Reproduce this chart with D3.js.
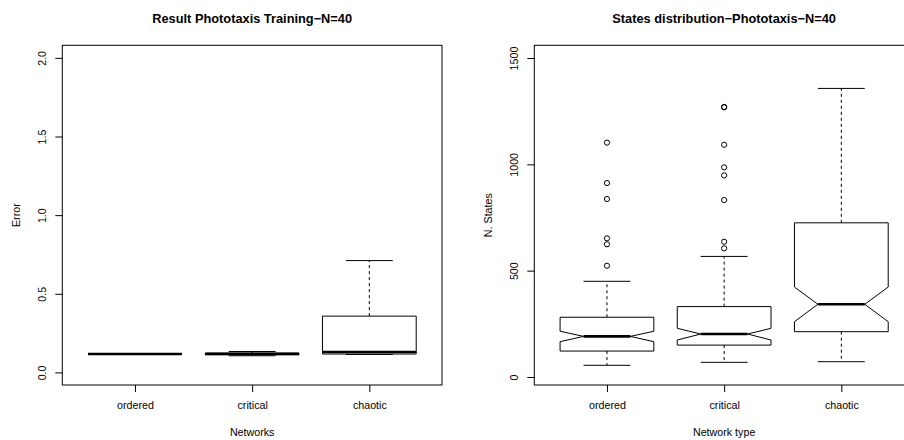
<!DOCTYPE html>
<html>
<head>
<meta charset="utf-8">
<script src="https://cdn.jsdelivr.net/npm/d3@7"></script>
<style>
  html, body { margin: 0; padding: 0; background: #fff; }
  svg { display: block; font-family: "Liberation Sans", Arial, Helvetica, sans-serif; }
</style>
</head>
<body>
<svg id="chart" width="904" height="440"></svg>
<script>
// Categories shared by both panels
const categories = ["ordered", "critical", "chaotic"];

// Panel 1: training error per network type (five-number summaries)
const errorLow    = [0.117, 0.106, 0.114];
const errorQ1     = [0.117, 0.113, 0.117];
const errorMedian = [0.117, 0.118, 0.130];
const errorQ3     = [0.117, 0.122, 0.358];
const errorHigh   = [0.117, 0.133, 0.711];
const errorTicks  = [0, 0.5, 1.0, 1.5, 2.0];

// Panel 2: number of states per network type (notched boxes + outliers)
const statesLow      = [55, 69, 72];
const statesQ1       = [122, 150, 213];
const statesNotchLo  = [166, 174, 260];
const statesMedian   = [191, 202, 342];
const statesNotchHi  = [215, 229, 423];
const statesQ3       = [281, 331, 725];
const statesHigh     = [450, 567, 1357];
const statesOutliers = [
  [523, 624, 652, 837, 912, 1102],
  [605, 636, 832, 948, 986, 1092, 1268, 1270],
  []
];
const statesTicks = [0, 500, 1000, 1500];

const svg = d3.select("#chart");
const FONT = 10.7;

function panel(opts) {
  const { left, right, top, bottom, yDomain, ticks, tickFmt, title, xTitle, yTitle,
          low, q1, med, q3, high, notchLo, notchHi, outliers } = opts;

  const g = svg.append("g");
  const x = d3.scaleLinear().domain([0.38, 3.62]).range([left, right]);
  const y = d3.scaleLinear().domain(yDomain).range([bottom, top]);
  const step = x(2) - x(1);
  const half = 0.4 * step;      // half box width
  const capHalf = 0.2 * step;   // half whisker-cap width

  const rows = categories.map((c, i) => ({
    c, i, pos: x(i + 1),
    low: low[i], q1: q1[i], med: med[i], q3: q3[i], high: high[i],
    nlo: notchLo ? notchLo[i] : null, nhi: notchHi ? notchHi[i] : null,
    out: outliers ? outliers[i] : []
  }));

  const box = g.append("g").selectAll("g").data(rows).join("g");

  // whiskers
  box.append("line")
    .attr("x1", d => d.pos).attr("x2", d => d.pos)
    .attr("y1", d => y(d.q3)).attr("y2", d => y(d.high))
    .attr("stroke", "#000").attr("stroke-width", 1).attr("stroke-dasharray", "3,3");
  box.append("line")
    .attr("x1", d => d.pos).attr("x2", d => d.pos)
    .attr("y1", d => y(d.q1)).attr("y2", d => y(d.low))
    .attr("stroke", "#000").attr("stroke-width", 1).attr("stroke-dasharray", "3,3");
  // caps
  box.selectAll("line.cap").data(d => [d.low, d.high].map(v => ({ v, pos: d.pos })))
    .join("line").attr("class", "cap")
    .attr("x1", d => d.pos - capHalf).attr("x2", d => d.pos + capHalf)
    .attr("y1", d => y(d.v)).attr("y2", d => y(d.v))
    .attr("stroke", "#000").attr("stroke-width", 1);

  // box body (notched when notch bounds exist)
  box.append("path")
    .attr("d", d => {
      if (d.nlo == null) {
        return `M${d.pos - half},${y(d.q1)}H${d.pos + half}V${y(d.q3)}H${d.pos - half}Z`;
      }
      const n = half / 2;
      return "M" + [
        [d.pos - half, y(d.q1)], [d.pos + half, y(d.q1)], [d.pos + half, y(d.nlo)],
        [d.pos + n, y(d.med)], [d.pos + half, y(d.nhi)], [d.pos + half, y(d.q3)],
        [d.pos - half, y(d.q3)], [d.pos - half, y(d.nhi)], [d.pos - n, y(d.med)],
        [d.pos - half, y(d.nlo)]
      ].map(p => p.join(",")).join("L") + "Z";
    })
    .attr("fill", "#fff").attr("stroke", "#000").attr("stroke-width", 1);

  // median
  box.append("line")
    .attr("x1", d => d.pos - (d.nlo == null ? half : half / 2))
    .attr("x2", d => d.pos + (d.nlo == null ? half : half / 2))
    .attr("y1", d => y(d.med)).attr("y2", d => y(d.med))
    .attr("stroke", "#000").attr("stroke-width", 2.6);

  // outliers
  box.selectAll("circle").data(d => d.out.map(v => ({ v, pos: d.pos })))
    .join("circle")
    .attr("cx", d => d.pos).attr("cy", d => y(d.v)).attr("r", 2.6)
    .attr("fill", "none").attr("stroke", "#000").attr("stroke-width", 1);

  // frame
  g.append("rect")
    .attr("x", left).attr("y", top).attr("width", right - left).attr("height", bottom - top)
    .attr("fill", "none").attr("stroke", "#000").attr("stroke-width", 1);

  // y axis
  const ya = g.append("g").attr("transform", `translate(${left},0)`)
    .call(d3.axisLeft(y).tickValues(ticks).tickFormat(tickFmt).tickSize(7).tickSizeOuter(0));
  ya.select(".domain").remove();
  ya.selectAll(".tick line").attr("stroke", "#000");
  ya.selectAll(".tick text")
    .attr("x", null).attr("dy", null).attr("y", 0)
    .attr("transform", "translate(-16.5,0) rotate(-90)")
    .attr("text-anchor", "middle")
    .attr("font-size", FONT).attr("fill", "#000").attr("font-family", null);

  // x axis
  const xa = g.append("g").attr("transform", `translate(0,${bottom})`)
    .call(d3.axisBottom(x).tickValues([1, 2, 3]).tickFormat(v => categories[v - 1]).tickSize(7).tickSizeOuter(0));
  xa.select(".domain").remove();
  xa.selectAll(".tick line").attr("stroke", "#000");
  xa.selectAll(".tick text")
    .attr("dy", null).attr("y", 24)
    .attr("font-size", FONT).attr("fill", "#000").attr("font-family", null);

  const cx = (left + right) / 2;
  g.append("text").attr("x", cx).attr("y", 22.5).attr("text-anchor", "middle")
    .attr("font-size", 12.8).attr("font-weight", "bold").text(title);
  g.append("text").attr("x", cx).attr("y", 435.5).attr("text-anchor", "middle")
    .attr("font-size", FONT).text(xTitle);
  g.append("text")
    .attr("transform", `translate(${left - 42},${(top + bottom) / 2}) rotate(-90)`)
    .attr("text-anchor", "middle").attr("font-size", FONT).text(yTitle);
}

panel({
  left: 62.3, right: 442, top: 45.3, bottom: 385,
  yDomain: [-0.08, 2.08], ticks: errorTicks, tickFmt: d3.format(".1f"),
  title: "Result Phototaxis Training\u2212N=40", xTitle: "Networks", yTitle: "Error",
  low: errorLow, q1: errorQ1, med: errorMedian, q3: errorQ3, high: errorHigh
});

panel({
  left: 534.3, right: 914, top: 45.3, bottom: 385,
  yDomain: [-37.6, 1559.7], ticks: statesTicks, tickFmt: d3.format("d"),
  title: "States distribution\u2212Phototaxis\u2212N=40", xTitle: "Network type", yTitle: "N. States",
  low: statesLow, q1: statesQ1, med: statesMedian, q3: statesQ3, high: statesHigh,
  notchLo: statesNotchLo, notchHi: statesNotchHi, outliers: statesOutliers
});
</script>
</body>
</html>
